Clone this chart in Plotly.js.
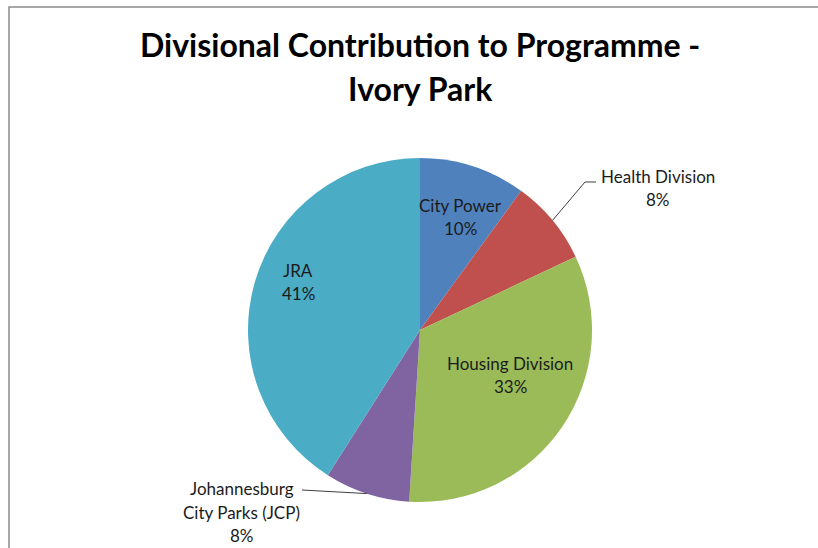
<!DOCTYPE html>
<html><head><meta charset="utf-8">
<script src="https://cdn.plot.ly/plotly-3.0.1.min.js"></script>
<style>html,body{margin:0;padding:0;background:#fff;overflow:hidden}</style>
</head><body><div id="chart" style="width:818px;height:548px"></div>
<script>
// ---- data ----
const titleLines = ["Divisional Contribution to Programme -", "Ivory Park"];
const divisions = ["City Power", "Health Division", "Housing Division", "Johannesburg City Parks (JCP)", "JRA"];
const labelLines = [["City Power"], ["Health Division"], ["Housing Division"], ["Johannesburg", "City Parks (JCP)"], ["JRA"]];
const shares = [10, 8, 33, 8, 41];
const colors = ["#4F81BD", "#C0504D", "#9BBB59", "#8064A2", "#4BACC6"];

// ---- layout helpers (pixels -> paper) ----
const W = 818, H = 548;
const cx = 420, cy = 330, R = 172;
const px = x => x / W, py = y => 1 - y / H;
const labelCentre = [[461, 217], [658, 188], [510, 375], [242, 512], [298, 282]];
const lineGap = 23.5;
const titleY = [45, 88];
// leader lines: elbow/end points for outside labels
const leaders = {1: [[585, 182], [596, 182]], 3: [[302, 490]]};
const fontFam = "Lato, 'Open Sans', sans-serif";

const total = shares.reduce((a, b) => a + b, 0);
let cum = 0;
const annotations = [];
const shapes = [];

titleLines.forEach((t, k) => {
  annotations.push({
    text: "<b>" + t + "</b>", showarrow: false, xref: "paper", yref: "paper",
    x: px(cx), y: py(titleY[k]), xanchor: "center", yanchor: "middle",
    font: {family: fontFam, size: 32, color: "#000"}
  });
});

shares.forEach((v, i) => {
  const mid = (cum + v / 2) / total * 2 * Math.PI; // clockwise from 12 o'clock
  cum += v;
  const lines = labelLines[i].concat([Math.round(v / total * 100) + "%"]);
  const [lx, ly] = labelCentre[i];
  const y0 = ly - (lines.length - 1) * lineGap / 2;
  lines.forEach((t, k) => {
    annotations.push({
      text: t, showarrow: false, xref: "paper", yref: "paper",
      x: px(lx), y: py(y0 + k * lineGap), xanchor: "center", yanchor: "middle",
      font: {family: fontFam, size: 17, color: "#1b1b1b"}
    });
  });
  if (leaders[i]) {
    const pts = [[cx + R * Math.sin(mid), cy - R * Math.cos(mid)]].concat(leaders[i]);
    const path = pts.map((p, k) => (k ? "L" : "M") + px(p[0]) + "," + py(p[1])).join(" ");
    shapes.push({type: "path", xref: "paper", yref: "paper", path: path,
      line: {color: "#404040", width: 1}});
  }
});

// chart-area frame (left and top edges visible)
shapes.push({type: "path", xref: "paper", yref: "paper",
  path: "M" + px(9) + "," + py(560) + " L" + px(9) + "," + py(7) + " L" + px(830) + "," + py(7),
  line: {color: "#8c8c8c", width: 1.5}, layer: "below"});

const trace = {
  type: "pie", values: shares, labels: divisions, sort: false, direction: "clockwise",
  rotation: 0, textinfo: "none", hoverinfo: "label+percent",
  marker: {colors: colors, line: {width: 0}},
  domain: {x: [px(cx - R), px(cx + R)], y: [py(cy + R), py(cy - R)]},
  showlegend: false
};

const layout = {
  width: W, height: H, margin: {l: 0, r: 0, t: 0, b: 0},
  paper_bgcolor: "#ffffff", plot_bgcolor: "#ffffff",
  annotations: annotations, shapes: shapes
};
Plotly.newPlot("chart", [trace], layout, {displayModeBar: false, staticPlot: true});
</script></body></html>
